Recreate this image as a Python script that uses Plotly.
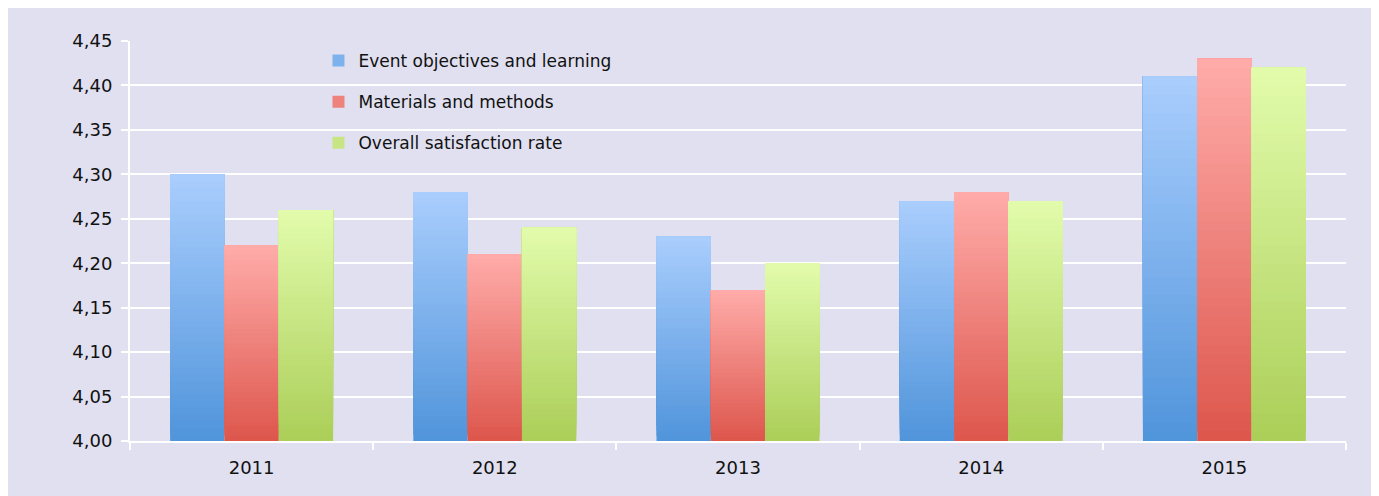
import plotly.graph_objects as go

years = ["2011", "2012", "2013", "2014", "2015"]
series_names = ["Event objectives and learning", "Materials and methods", "Overall satisfaction rate"]
objectives = [4.30, 4.28, 4.23, 4.27, 4.41]
materials = [4.22, 4.21, 4.17, 4.28, 4.43]
overall = [4.26, 4.24, 4.20, 4.27, 4.42]
y_ticks = [4.00, 4.05, 4.10, 4.15, 4.20, 4.25, 4.30, 4.35, 4.40, 4.45]

# gradient colours: bottom -> top
gradients = [
    ((80, 148, 219), (170, 206, 253)),
    ((221, 86, 76), (255, 172, 170)),
    ((171, 206, 88), (226, 252, 172)),
]

BASE = 4.0
N = 40  # overlapping bars, each a bit lighter and starting higher -> vertical gradient

fig = go.Figure()
for name, vals, (c0, c1) in zip(series_names, [objectives, materials, overall], gradients):
    for k in range(N):
        t = (k + 0.5) / N
        col = "rgb({},{},{})".format(*[round(a + (b - a) * t) for a, b in zip(c0, c1)])
        starts = [BASE + (v - BASE) * k / N for v in vals]
        fig.add_trace(go.Bar(
            x=years,
            y=[v - s for v, s in zip(vals, starts)],
            base=starts,
            name=name,
            offsetgroup=name,
            legendgroup=name,
            showlegend=(k == N // 2),
            marker=dict(color=col, line=dict(width=0)),
            hoverinfo="skip",
        ))

fig.update_layout(
    width=1371, height=488,
    margin=dict(l=122, r=33, t=33, b=55),
    paper_bgcolor="#e0e0f0",
    plot_bgcolor="#e0e0f0",
    barmode="group",
    bargap=0.33,
    bargroupgap=0,
    separators=",.",
    font=dict(family="DejaVu Sans", size=17, color="#111"),
    showlegend=True,
    legend=dict(
        x=0.155, y=0.995, xanchor="left", yanchor="top",
        bgcolor="rgba(0,0,0,0)", traceorder="grouped",
        tracegroupgap=16, font=dict(size=17),
    ),
    xaxis=dict(
        showgrid=False, showline=True, linecolor="white", linewidth=2,
        ticks="outside", tickson="boundaries", ticklen=7, tickcolor="white", tickwidth=2,
        tickfont=dict(size=18), ticklabelstandoff=9,
    ),
    yaxis=dict(
        range=[4.0, 4.45], tickvals=y_ticks, tickformat=".2f",
        showgrid=True, gridcolor="white", gridwidth=2,
        showline=True, linecolor="white", linewidth=2,
        ticks="outside", ticklen=7, tickcolor="white", tickwidth=2,
        zeroline=False, tickfont=dict(size=18), ticklabelstandoff=5,
    ),
)

fig.write_html("out.html")
